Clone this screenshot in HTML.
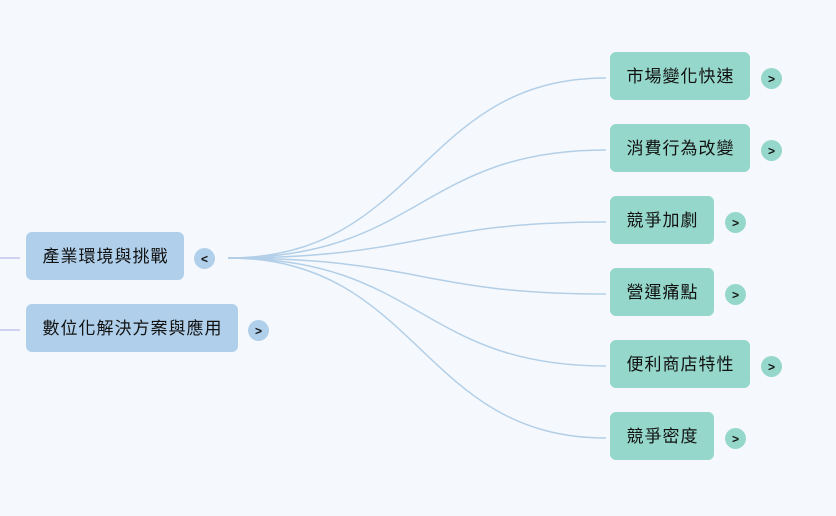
<!DOCTYPE html>
<html><head><meta charset="utf-8"><style>
body{margin:0;width:836px;height:516px;background:#f5f9fd;position:relative;overflow:hidden;font-family:"Liberation Sans","Noto Sans CJK TC",sans-serif;}
.n{position:absolute;height:48px;border-radius:6px;display:flex;align-items:center;justify-content:center;font-size:17px;letter-spacing:1px;padding-left:1px;padding-bottom:3px;color:#111;box-sizing:border-box;}
.l{background:#b0cfea;}
.r{background:#95d7ca;}
.c{position:absolute;width:21px;height:21px;border-radius:50%;display:flex;align-items:center;justify-content:center;font-size:12px;font-weight:bold;color:#111;}
.cl{background:#b0cfea}.cr{background:#95d7ca}
</style></head><body>
<svg width="836" height="516" style="position:absolute;left:0;top:0">
<g stroke="#c4c4f0" stroke-width="1.5"><line x1="0" y1="258" x2="20" y2="258"/><line x1="0" y1="330" x2="20" y2="330"/></g>
<g stroke="#b3cfe8" stroke-width="1.5" fill="none">
<path d="M228 258 C420 258 420 78 606 78"/>
<path d="M228 258 C420 258 420 150 606 150"/>
<path d="M228 258 C420 258 420 222 606 222"/>
<path d="M228 258 C420 258 420 294 606 294"/>
<path d="M228 258 C420 258 420 366 606 366"/>
<path d="M228 258 C420 258 420 438 606 438"/>
</g></svg>
<div class="n l" style="left:26px;top:232px;width:158px">產業環境與挑戰</div>
<div class="c cl" style="left:194px;top:248px">&lt;</div>
<div class="n l" style="left:26px;top:304px;width:212px">數位化解決方案與應用</div>
<div class="c cl" style="left:248px;top:320px">&gt;</div>
<div class="n r" style="left:610px;top:52px;width:140px">市場變化快速</div>
<div class="c cr" style="left:761px;top:68px">&gt;</div>
<div class="n r" style="left:610px;top:124px;width:140px">消費行為改變</div>
<div class="c cr" style="left:761px;top:140px">&gt;</div>
<div class="n r" style="left:610px;top:196px;width:104px">競爭加劇</div>
<div class="c cr" style="left:725px;top:212px">&gt;</div>
<div class="n r" style="left:610px;top:268px;width:104px">營運痛點</div>
<div class="c cr" style="left:725px;top:284px">&gt;</div>
<div class="n r" style="left:610px;top:340px;width:140px">便利商店特性</div>
<div class="c cr" style="left:761px;top:356px">&gt;</div>
<div class="n r" style="left:610px;top:412px;width:104px">競爭密度</div>
<div class="c cr" style="left:725px;top:428px">&gt;</div>
</body></html>
